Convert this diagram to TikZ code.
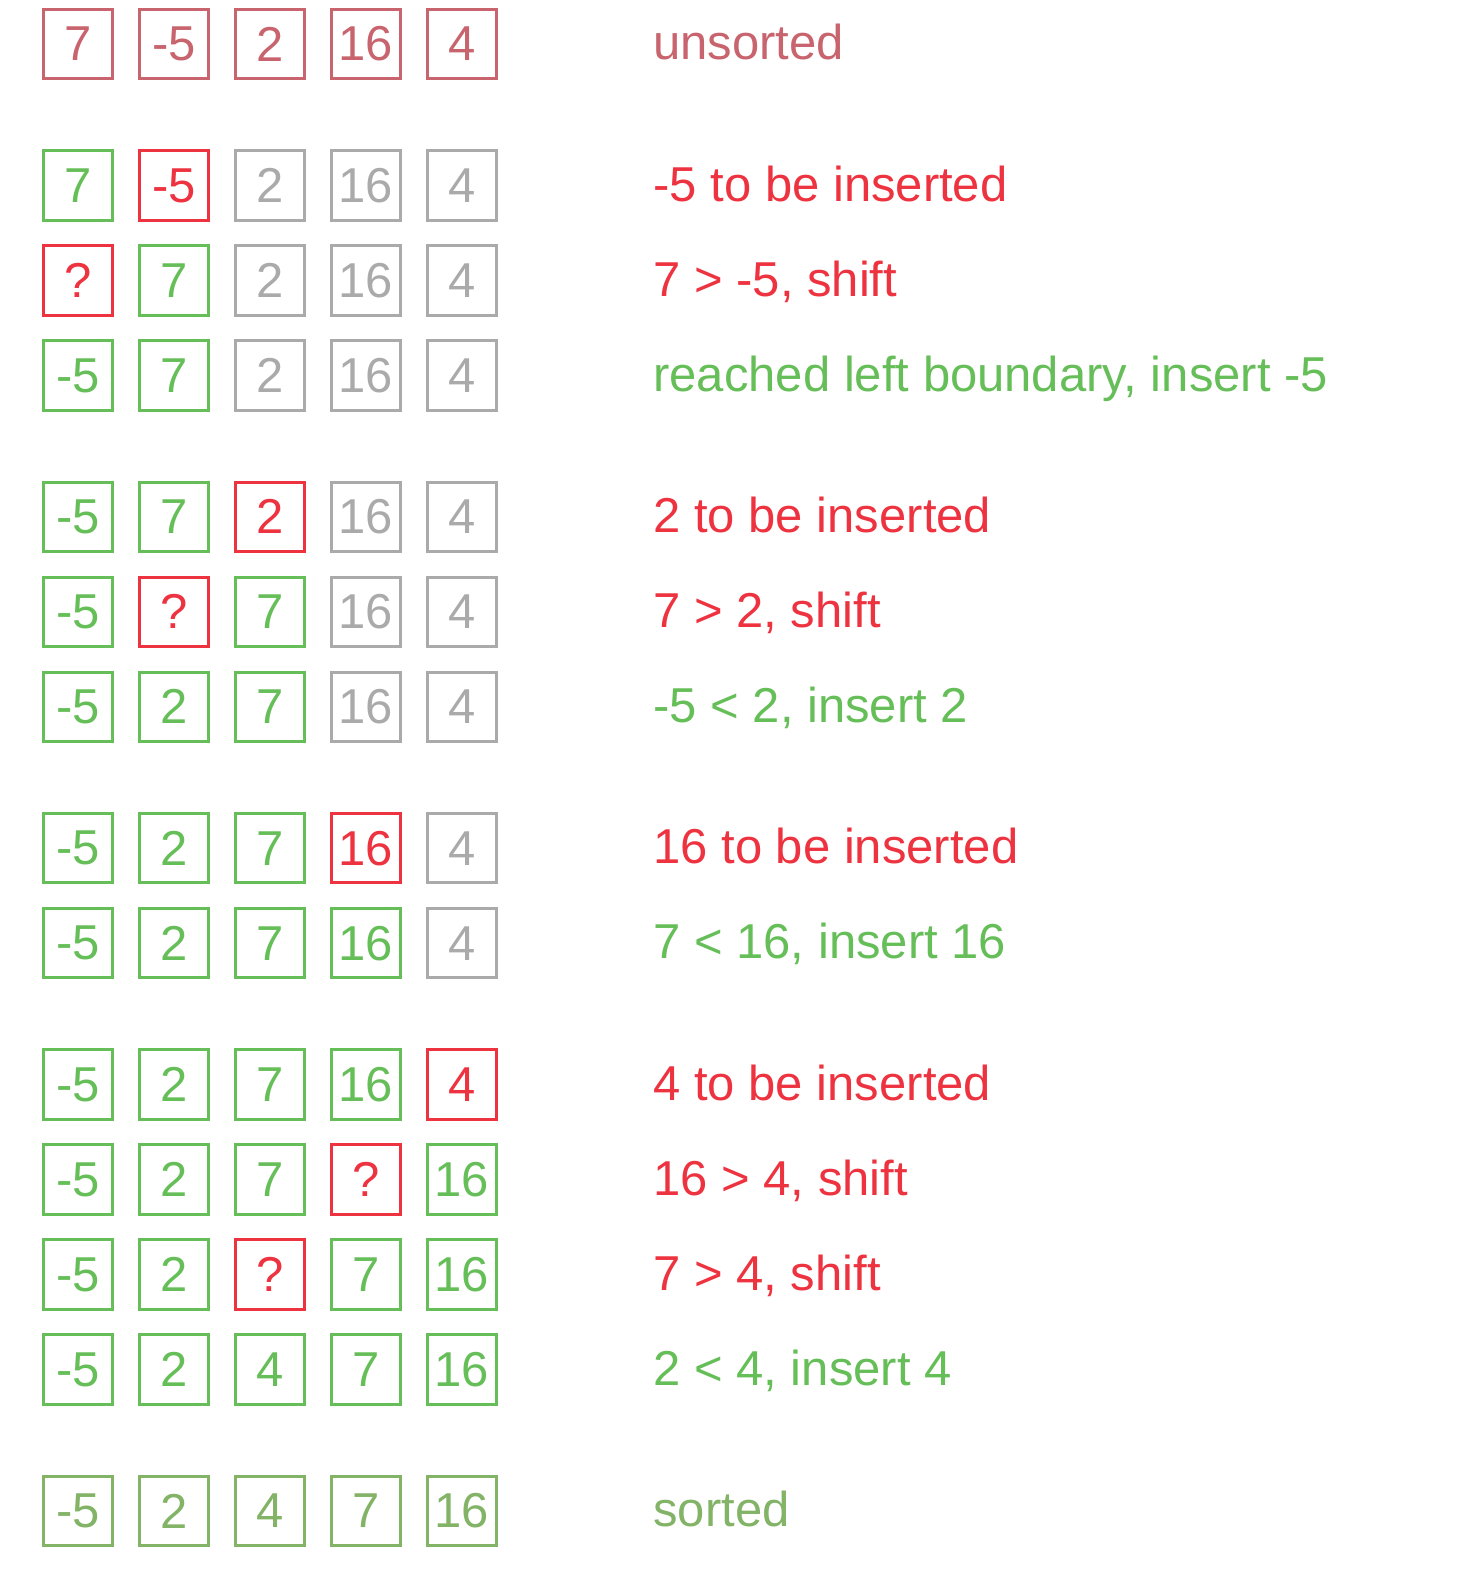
\documentclass[tikz,border=0pt]{standalone}
\usepackage{fontspec}
\setmainfont{Liberation Sans}
\definecolor{cu}{HTML}{C8646E}
\definecolor{cr}{HTML}{EE3340}
\definecolor{cg}{HTML}{66BE58}
\definecolor{cx}{HTML}{AAAAAA}
\definecolor{cs}{HTML}{82B366}
\newcommand\cellrow[5]{%
  \foreach \v/\c [count=\i] in {#3} {
    \node[cell,draw=\c,text=\c] (r#1c\i) at ({78+96*(\i-1)},#2) {\v};
  }
  \node[lbl,text=#5] (l#1) at (653,{#2+15.6}) {#4};
}
\begin{document}
\begin{tikzpicture}[x=0.5pt,y=-0.5pt,
  cell/.style={draw,line width=1.5pt,minimum width=34.8pt,minimum height=34.7pt,inner sep=0pt,
    font=\fontsize{24.5pt}{24.5pt}\selectfont},
  lbl/.style={anchor=base west,inner sep=0pt,font=\fontsize{24.5pt}{24.5pt}\selectfont}]
\useasboundingbox (0,0) rectangle (1456,1584);
\cellrow{1}{44}{7/cu,-5/cu,2/cu,16/cu,4/cu}{unsorted}{cu}
\cellrow{2}{185.4}{7/cg,-5/cr,2/cx,16/cx,4/cx}{-5 to be inserted}{cr}
\cellrow{3}{280.4}{?/cr,7/cg,2/cx,16/cx,4/cx}{7 > -5, shift}{cr}
\cellrow{4}{375.4}{-5/cg,7/cg,2/cx,16/cx,4/cx}{reached left boundary, insert -5}{cg}
\cellrow{5}{516.8}{-5/cg,7/cg,2/cr,16/cx,4/cx}{2 to be inserted}{cr}
\cellrow{6}{611.8}{-5/cg,?/cr,7/cg,16/cx,4/cx}{7 > 2, shift}{cr}
\cellrow{7}{706.8}{-5/cg,2/cg,7/cg,16/cx,4/cx}{-5 < 2, insert 2}{cg}
\cellrow{8}{848.2}{-5/cg,2/cg,7/cg,16/cr,4/cx}{16 to be inserted}{cr}
\cellrow{9}{943.2}{-5/cg,2/cg,7/cg,16/cg,4/cx}{7 < 16, insert 16}{cg}
\cellrow{10}{1084.6}{-5/cg,2/cg,7/cg,16/cg,4/cr}{4 to be inserted}{cr}
\cellrow{11}{1179.6}{-5/cg,2/cg,7/cg,?/cr,16/cg}{16 > 4, shift}{cr}
\cellrow{12}{1274.6}{-5/cg,2/cg,?/cr,7/cg,16/cg}{7 > 4, shift}{cr}
\cellrow{13}{1369.6}{-5/cg,2/cg,4/cg,7/cg,16/cg}{2 < 4, insert 4}{cg}
\cellrow{14}{1511}{-5/cs,2/cs,4/cs,7/cs,16/cs}{sorted}{cs}
\end{tikzpicture}
\end{document}
